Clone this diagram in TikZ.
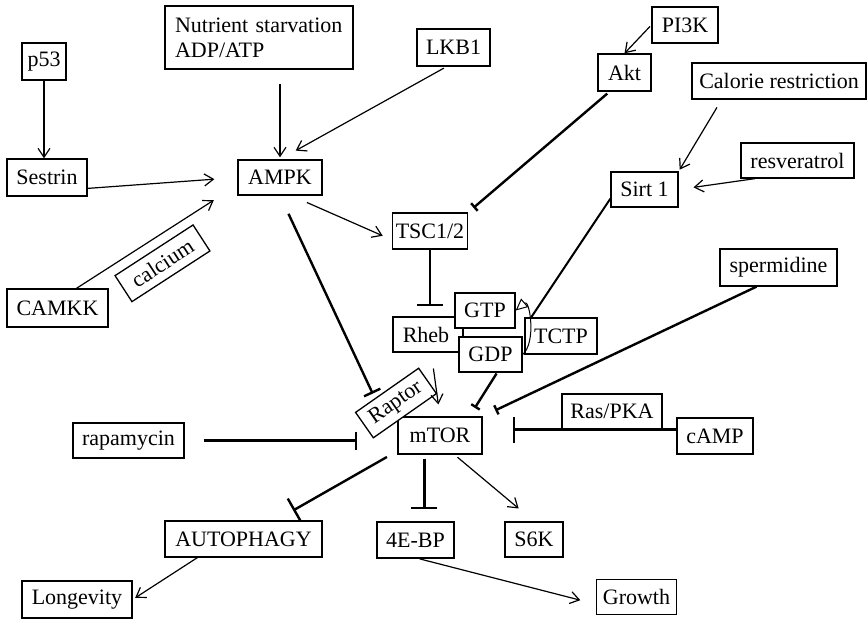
\documentclass[tikz,border=0pt]{standalone}
\usepackage{fontspec}
\setmainfont{Liberation Serif}
\usetikzlibrary{arrows.meta,calc}

\tikzset{
  box/.style={draw, line width=1.3pt, fill=white, inner sep=0pt,
              font=\fontsize{22}{25}\selectfont},
  act/.style={line width=1.2pt, -{Straight Barb[length=9pt,width=12pt]}},
  inh/.style={line width=2.4pt, -{Bar[width=26pt]}},
  inhmid/.style={line width=2.4pt, -{Bar[width=18pt]}},
  inhsmall/.style={line width=2.4pt, -{Bar[width=10pt]}},
}

\begin{document}
\begin{tikzpicture}[x=1pt,y=-1pt]
    \useasboundingbox (0,0) rectangle (868,619);

    % First the upstream signals
    \node[box, minimum width=188pt, minimum height=63pt, text width=168pt,
          align=left, inner xsep=10pt] (nutr) at (259,37.5)
          {Nutrient starvation\\ADP/ATP};
    \node[box, minimum width=73pt, minimum height=37pt] (lkb1) at (453.5,47.5) {LKB1};
    \node[box, minimum width=44pt, minimum height=37pt] (p53) at (44,61.5) {p53};
    \node[box, minimum width=80pt, minimum height=37pt] (sestrin) at (47,177.5) {Sestrin};
    \node[box, minimum width=84pt, minimum height=35pt] (ampk) at (280,177.5) {AMPK};
    \node[box, minimum width=101pt, minimum height=38pt] (camkk) at (57.5,308) {CAMKK};
    \node[box, minimum width=93pt, minimum height=31pt, rotate=33] (calcium) at (162.5,263.3) {calcium};
    \node[box, minimum width=66pt, minimum height=36pt] (pi3k) at (685,25) {PI3K};
    \node[box, minimum width=53pt, minimum height=37pt] (akt) at (624.5,72.5) {Akt};
    \node[box, minimum width=174pt, minimum height=36pt] (calorie) at (779,81) {Calorie restriction};
    \node[box, minimum width=67pt, minimum height=35pt] (sirt) at (644.5,189.5) {Sirt 1};
    \node[box, minimum width=113pt, minimum height=35pt] (resv) at (797.5,160.5) {resveratrol};
    \node[box, minimum width=75pt, minimum height=36pt] (tsc) at (430,231) {TSC1/2};
    \node[box, minimum width=117pt, minimum height=37pt] (sperm) at (778.5,267.5) {spermidine};

    % Now the Rheb switch
    \node[box, minimum width=70pt, minimum height=35pt] (rheb) at (428,334.5) {Rheb\hspace*{4pt}};
    \node[box, minimum width=60pt, minimum height=35pt] (gtp) at (485,310.5) {GTP};
    \node[box, minimum width=63pt, minimum height=35pt] (gdp) at (490.5,354.5) {GDP};
    \node[box, minimum width=72pt, minimum height=36pt] (tctp) at (561,336) {TCTP};

    % Now mTOR and its neighbours
    \node[box, minimum width=84pt, minimum height=37pt] (mtor) at (440,435.5) {mTOR};
    \node[box, minimum width=77pt, minimum height=31pt, rotate=35] (raptor) at (396,403) {Raptor};
    \node[box, minimum width=111pt, minimum height=35pt] (rapamycin) at (128.5,440.5) {rapamycin};
    \node[box, minimum width=100pt, minimum height=35pt] (raspka) at (612,411.5) {Ras/PKA};
    \node[box, minimum width=76pt, minimum height=36pt] (camp) at (715,436) {cAMP};

    % Now the outputs
    \node[box, minimum width=157pt, minimum height=36pt] (autophagy) at (243.5,539) {AUTOPHAGY};
    \node[box, minimum width=77pt, minimum height=36pt] (ebp) at (415.5,540) {4E-BP};
    \node[box, minimum width=58pt, minimum height=35pt] (s6k) at (534,539.5) {S6K};
    \node[box, minimum width=80pt, minimum height=35pt] (growth) at (636.5,597) {Growth};
    \node[box, minimum width=110pt, minimum height=37pt] (longevity) at (77,599.5) {Longevity};

    % Activating arrows
    \draw[act] (p53.south) -- (p53.south |- sestrin.north);
    \draw[act, shorten >=23pt] (sestrin.-15) -- (ampk.west);
    \draw[act, shorten <=14pt, shorten >=2pt] (nutr.south -| ampk.north) -- (ampk.north);
    \draw[act, shorten <=3pt, shorten >=18pt] (lkb1.250) -- (ampk.north);
    \draw[act, shorten >=28pt] (camkk.46) -- (ampk.190);
    \draw[act, shorten <=2pt] (pi3k.west) -- (akt.north);
    \draw[act, shorten <=9pt, shorten >=2pt] (calorie.198) -- (sirt.north east);
    \draw[act, shorten >=15pt] (resv.203) -- (sirt.east);
    \draw[act, shorten <=17pt, shorten >=10pt] (ampk.-58) -- (tsc.193);
    \draw[act, shorten <=16pt, shorten >=12pt] (rheb.-80) -- (mtor.north);
    \draw[act, shorten <=4pt, shorten >=20pt] (mtor.-53) -- (s6k.north);
    \draw[act, shorten <=1pt, shorten >=16pt] (ebp.-80) -- (growth.190);
    \draw[act, shorten >=3pt] (autophagy.202) -- (longevity.east);
    \draw[line width=2pt] (sirt.195) -- (tctp.148);

    % GDP back to GTP
    \draw[line width=1pt, -{Triangle[open,length=12pt,width=11pt,fill=white]}]
        (gdp.east) .. controls +(14,-12) and +(14,-12) .. (gtp.east);

    % Inhibiting lines
    \draw[inhsmall, shorten <=3pt, shorten >=7pt] (akt.-128) -- (tsc.north east);
    \draw[inh, shorten >=10pt] (tsc.south) -- (tsc.south |- rheb.north);
    \draw[inhmid, shorten <=20pt, shorten >=5pt] (ampk.south) -- (raptor.132);
    \draw[inhmid, shorten <=19pt, shorten >=40pt] (rapamycin.east) -- (rapamycin.east -| mtor.west);
    \draw[inhsmall, shorten >=14pt] (sperm.221) -- (mtor.north east);
    \draw[inhsmall, shorten <=1pt, shorten >=10pt] (gdp.-70) -- (mtor.33);
    \draw[inh, shorten >=30pt] (raspka.south -| camp.west) -- (raspka.south -| mtor.east);
    \draw[inh, shorten <=12pt, shorten >=20pt] (mtor.200) -- (autophagy.30);
    \draw[inh, shorten <=4pt, shorten >=12pt] (mtor.-129) -- (mtor.-129 |- ebp.north);

\end{tikzpicture}
\end{document}
